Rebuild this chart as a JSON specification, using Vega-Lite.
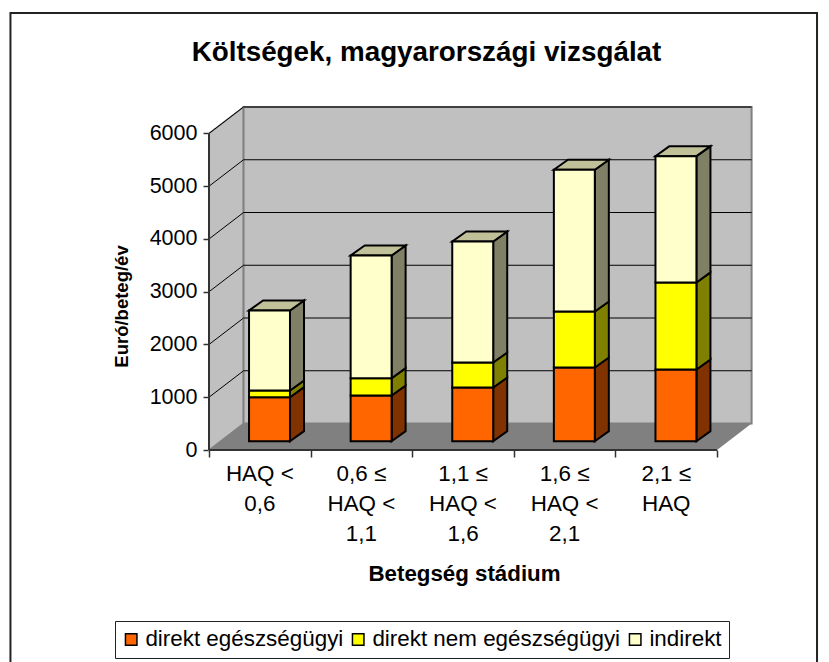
{
"$schema":"https://vega.github.io/schema/vega-lite/v6.json",
"width":543,"height":343,
"autosize":"none",
"padding":{"left":209,"top":107,"right":77,"bottom":212},
"background":"white",
"config":{"view":{"stroke":null},"font":"Liberation Sans"},
"title":{"text":"Költségek, magyarországi vizsgálat","font":"Liberation Sans","fontSize":27.8,"fontWeight":"bold","color":"black","anchor":"middle","frame":"group","dx":-54,"offset":-55},
"datasets":{
"bars":[
{"stage":"HAQ <\n0,6","i":0,"series":"direkt egészségügyi","value":834},
{"stage":"HAQ <\n0,6","i":0,"series":"direkt nem egészségügyi","value":127},
{"stage":"HAQ <\n0,6","i":0,"series":"indirekt","value":1517},
{"stage":"0,6 ≤\nHAQ <\n1,1","i":1,"series":"direkt egészségügyi","value":866},
{"stage":"0,6 ≤\nHAQ <\n1,1","i":1,"series":"direkt nem egészségügyi","value":328},
{"stage":"0,6 ≤\nHAQ <\n1,1","i":1,"series":"indirekt","value":2326},
{"stage":"1,1 ≤\nHAQ <\n1,6","i":2,"series":"direkt egészségügyi","value":1018},
{"stage":"1,1 ≤\nHAQ <\n1,6","i":2,"series":"direkt nem egészségügyi","value":474},
{"stage":"1,1 ≤\nHAQ <\n1,6","i":2,"series":"indirekt","value":2294},
{"stage":"1,6 ≤\nHAQ <\n2,1","i":3,"series":"direkt egészségügyi","value":1397},
{"stage":"1,6 ≤\nHAQ <\n2,1","i":3,"series":"direkt nem egészségügyi","value":1062},
{"stage":"1,6 ≤\nHAQ <\n2,1","i":3,"series":"indirekt","value":2686},
{"stage":"2,1 ≤\nHAQ","i":4,"series":"direkt egészségügyi","value":1359},
{"stage":"2,1 ≤\nHAQ","i":4,"series":"direkt nem egészségügyi","value":1650},
{"stage":"2,1 ≤\nHAQ","i":4,"series":"indirekt","value":2394}
],
"depth":[{"d":0},{"d":1}],
"ticks":[{"v":1000},{"v":2000},{"v":3000},{"v":4000},{"v":5000},{"v":6000}]
},
"resolve":{"scale":{"color":"independent"},"axis":{"x":"independent","y":"independent"}},
"layer":[
{"data":{"values":[{}]},"mark":{"type":"rect","fill":"transparent","stroke":"#222222","strokeWidth":2},
 "encoding":{
  "x":{"datum":-1.954,"type":"quantitative","scale":{"domain":[0,5.344],"nice":false,"zero":false},
    "axis":{"values":[0,1,2,3,4,5],"labels":false,"grid":false,"domain":false,"ticks":true,"tickSize":7,"tickColor":"#333333","tickWidth":1.5,"title":"Betegség stádium","titleFont":"Liberation Sans","titleFontSize":22.3,"titleFontWeight":"bold","titleColor":"black","titlePadding":105,"titleX":255}},
  "x2":{"datum":5.984},
  "y":{"datum":8284,"type":"quantitative","scale":{"domain":[0,6502],"nice":false,"zero":false},
    "axis":{"values":[0,1000,2000,3000,4000,5000,6000],"grid":false,"domain":false,"tickSize":6,"tickColor":"#333333","tickWidth":1.5,"labelFont":"Liberation Sans","labelFontSize":21.5,"labelColor":"black","labelPadding":6,"format":"d","title":"Euró/beteg/év","titleFont":"Liberation Sans","titleFontSize":18.5,"titleFontWeight":"bold","titleColor":"black","titlePadding":18,"titleY":199}},
  "y2":{"datum":-4200}
 }},
{"data":{"name":"depth"},"transform":[{"calculate":"0.34*datum.d","as":"x"},{"calculate":"502*datum.d","as":"lo"},{"calculate":"6000+502*datum.d","as":"hi"}],
 "mark":{"type":"area","fill":"#c0c0c0","stroke":"#808080","strokeWidth":1.5},
 "encoding":{"x":{"field":"x","type":"quantitative","axis":null},"y":{"field":"lo","type":"quantitative","axis":null,"stack":null},"y2":{"field":"hi"}}},
{"data":{"values":[{}]},"mark":{"type":"rect","fill":"#c0c0c0","stroke":"#808080","strokeWidth":2},
 "encoding":{"x":{"datum":0.34,"type":"quantitative","axis":null},"x2":{"datum":5.34},"y":{"datum":502,"type":"quantitative","axis":null},"y2":{"datum":6502}}},
{"data":{"name":"depth"},"transform":[{"calculate":"0.34*datum.d","as":"xa"},{"calculate":"5+0.34*datum.d","as":"xb"},{"calculate":"502*datum.d","as":"yy"}],
 "mark":{"type":"area","orient":"horizontal","fill":"#808080"},
 "encoding":{"y":{"field":"yy","type":"quantitative","axis":null,"stack":null},"x":{"field":"xa","type":"quantitative","axis":null},"x2":{"field":"xb"}}},
{"data":{"name":"ticks"},"transform":[{"calculate":"datum.v+502","as":"b"}],
 "mark":{"type":"rule","color":"black","strokeWidth":1},
 "encoding":{"x":{"datum":0.34,"type":"quantitative","axis":null},"x2":{"datum":5.34},"y":{"field":"b","type":"quantitative","axis":null},"y2":{"field":"b"}}},
{"data":{"name":"ticks"},"transform":[{"calculate":"datum.v+502","as":"b"}],
 "mark":{"type":"rule","color":"black","strokeWidth":1},
 "encoding":{"x":{"datum":0,"type":"quantitative","axis":null},"x2":{"datum":0.34},"y":{"field":"v","type":"quantitative","axis":null},"y2":{"field":"b"}}},
{"data":{"values":[{}]},"mark":{"type":"rule","color":"#333333","strokeWidth":2},
 "encoding":{"x":{"datum":0,"type":"quantitative","axis":null},"y":{"datum":0,"type":"quantitative","axis":null},"y2":{"datum":6000}}},
{"data":{"values":[{}]},"mark":{"type":"rule","color":"#333333","strokeWidth":2},
 "encoding":{"x":{"datum":0,"type":"quantitative","axis":null},"x2":{"datum":5},"y":{"datum":0,"type":"quantitative","axis":null}}},
{"data":{"name":"bars"},
 "transform":[{"stack":"value","groupby":["i"],"sort":[{"field":"series","order":"ascending"}],"as":["y0","y1"]},
  {"calculate":"[0,1]","as":"d"},{"flatten":["d"]},
  {"calculate":"datum.i+0.797+0.138*datum.d","as":"sx"},
  {"calculate":"datum.y0+167+190*datum.d","as":"lo"},
  {"calculate":"datum.y1+167+190*datum.d","as":"hi"}],
 "mark":{"type":"area","stroke":"black","strokeWidth":2,"strokeJoin":"miter"},
 "encoding":{"x":{"field":"sx","type":"quantitative","axis":null},"y":{"field":"lo","type":"quantitative","axis":null,"stack":null},"y2":{"field":"hi"},"detail":{"field":"i"},
  "color":{"field":"series","type":"nominal","legend":null,"scale":{"domain":["direkt egészségügyi","direkt nem egészségügyi","indirekt"],"range":["#803300","#808000","#808066"]}}}},
{"data":{"name":"bars"},
 "transform":[{"stack":"value","groupby":["i"],"sort":[{"field":"series","order":"ascending"}],"as":["y0","y1"]},
  {"filter":"datum.series==='indirekt'"},
  {"calculate":"[0,1]","as":"d"},{"flatten":["d"]},
  {"calculate":"datum.i+0.394+0.138*datum.d","as":"xa"},
  {"calculate":"datum.i+0.797+0.138*datum.d","as":"xb"},
  {"calculate":"datum.y1+167+190*datum.d","as":"yy"}],
 "mark":{"type":"area","orient":"horizontal","fill":"#c0c099","stroke":"black","strokeWidth":2,"strokeJoin":"miter"},
 "encoding":{"y":{"field":"yy","type":"quantitative","axis":null,"stack":null},"x":{"field":"xa","type":"quantitative","axis":null},"x2":{"field":"xb"},"detail":{"field":"i"}}},
{"data":{"name":"bars"},
 "transform":[{"stack":"value","groupby":["i"],"sort":[{"field":"series","order":"ascending"}],"as":["y0","y1"]},
  {"calculate":"datum.i+0.394","as":"xa"},{"calculate":"datum.i+0.797","as":"xb"},
  {"calculate":"datum.y0+167","as":"lo"},{"calculate":"datum.y1+167","as":"hi"}],
 "mark":{"type":"rect","stroke":"black","strokeWidth":2},
 "encoding":{"x":{"field":"xa","type":"quantitative","axis":null},"x2":{"field":"xb"},"y":{"field":"lo","type":"quantitative","axis":null},"y2":{"field":"hi"},
  "color":{"field":"series","type":"nominal","scale":{"domain":["direkt egészségügyi","direkt nem egészségügyi","indirekt"],"range":["#ff6600","#ffff00","#ffffcc"]},
   "legend":{"orient":"none","legendX":-94,"legendY":514,"direction":"horizontal","columns":3,"title":null,"strokeColor":"#222222","fillColor":"white","padding":7,"symbolOffset":-2,"symbolType":"square","symbolSize":132,"symbolStrokeColor":"black","symbolStrokeWidth":1.5,"labelFont":"Liberation Sans","labelFontSize":22.4,"labelColor":"black","labelLimit":400,"labelOffset":3,"columnPadding":5}}}},
{"data":{"name":"bars"},"transform":[{"filter":"datum.series==='indirekt'"},{"calculate":"datum.i+0.5","as":"cx"}],
 "mark":{"type":"text","font":"Liberation Sans","fontSize":22.4,"color":"black","baseline":"middle","align":"center","lineBreak":"\n","lineHeight":30},
 "encoding":{"x":{"field":"cx","type":"quantitative","axis":null},"y":{"datum":-455,"type":"quantitative","axis":null},"text":{"field":"stage"}}}
]
}
